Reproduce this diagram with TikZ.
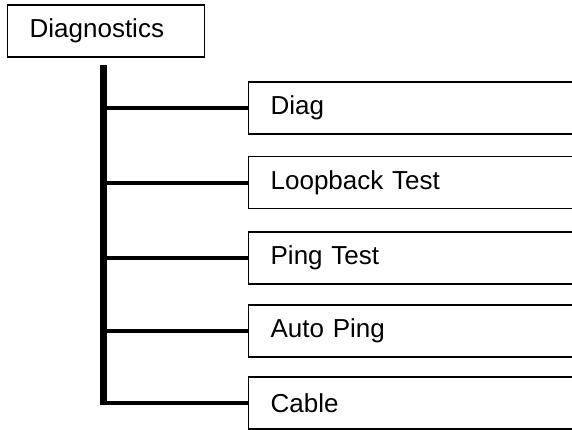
\documentclass[tikz,border=0pt]{standalone}
\usepackage{fontspec}
\setmainfont{Liberation Sans}
\usepackage{tikz}
\usetikzlibrary{calc,positioning}

\tikzset{
  menubox/.style={draw, line width=1.3pt, minimum height=52pt, inner xsep=22pt,
    inner ysep=0pt, font=\fontsize{26}{30}\selectfont, anchor=west},
  trunkline/.style={line width=6.5pt},
  branchline/.style={line width=4pt}
}

\begin{document}
\begin{tikzpicture}[x=1pt,y=-1pt]
      \clip (0,0) rectangle (572,429);
      % Top box
      \node[menubox, text width=153pt, align=left] (diagnostics) at (7,31) {Diagnostics};
      % Sub boxes
      \node[menubox, text width=316pt, align=left] (diag) at (248,108) {Diag};
      \node[menubox, text width=316pt, align=left] (loop) at (248,182.5) {Loopback Test};
      \node[menubox, text width=316pt, align=left] (ping) at (248,258) {Ping Test};
      \node[menubox, text width=316pt, align=left] (auto) at (248,331) {Auto Ping};
      \node[menubox, text width=316pt, align=left] (cable) at (248,403) {Cable};

      % Trunk
      \coordinate (top) at (103.5,65);
      \draw[trunkline] (top) -- (top |- cable.west);

      % Branches
      \draw[branchline] (top |- diag.west) -- (diag.west);
      \draw[branchline] (top |- loop.west) -- (loop.west);
      \draw[branchline] (top |- ping.west) -- (ping.west);
      \draw[branchline] (top |- auto.west) -- (auto.west);
      \draw[branchline] ($(top |- cable.west)+(-3.25,0)$) -- (cable.west);
\end{tikzpicture}
\end{document}
